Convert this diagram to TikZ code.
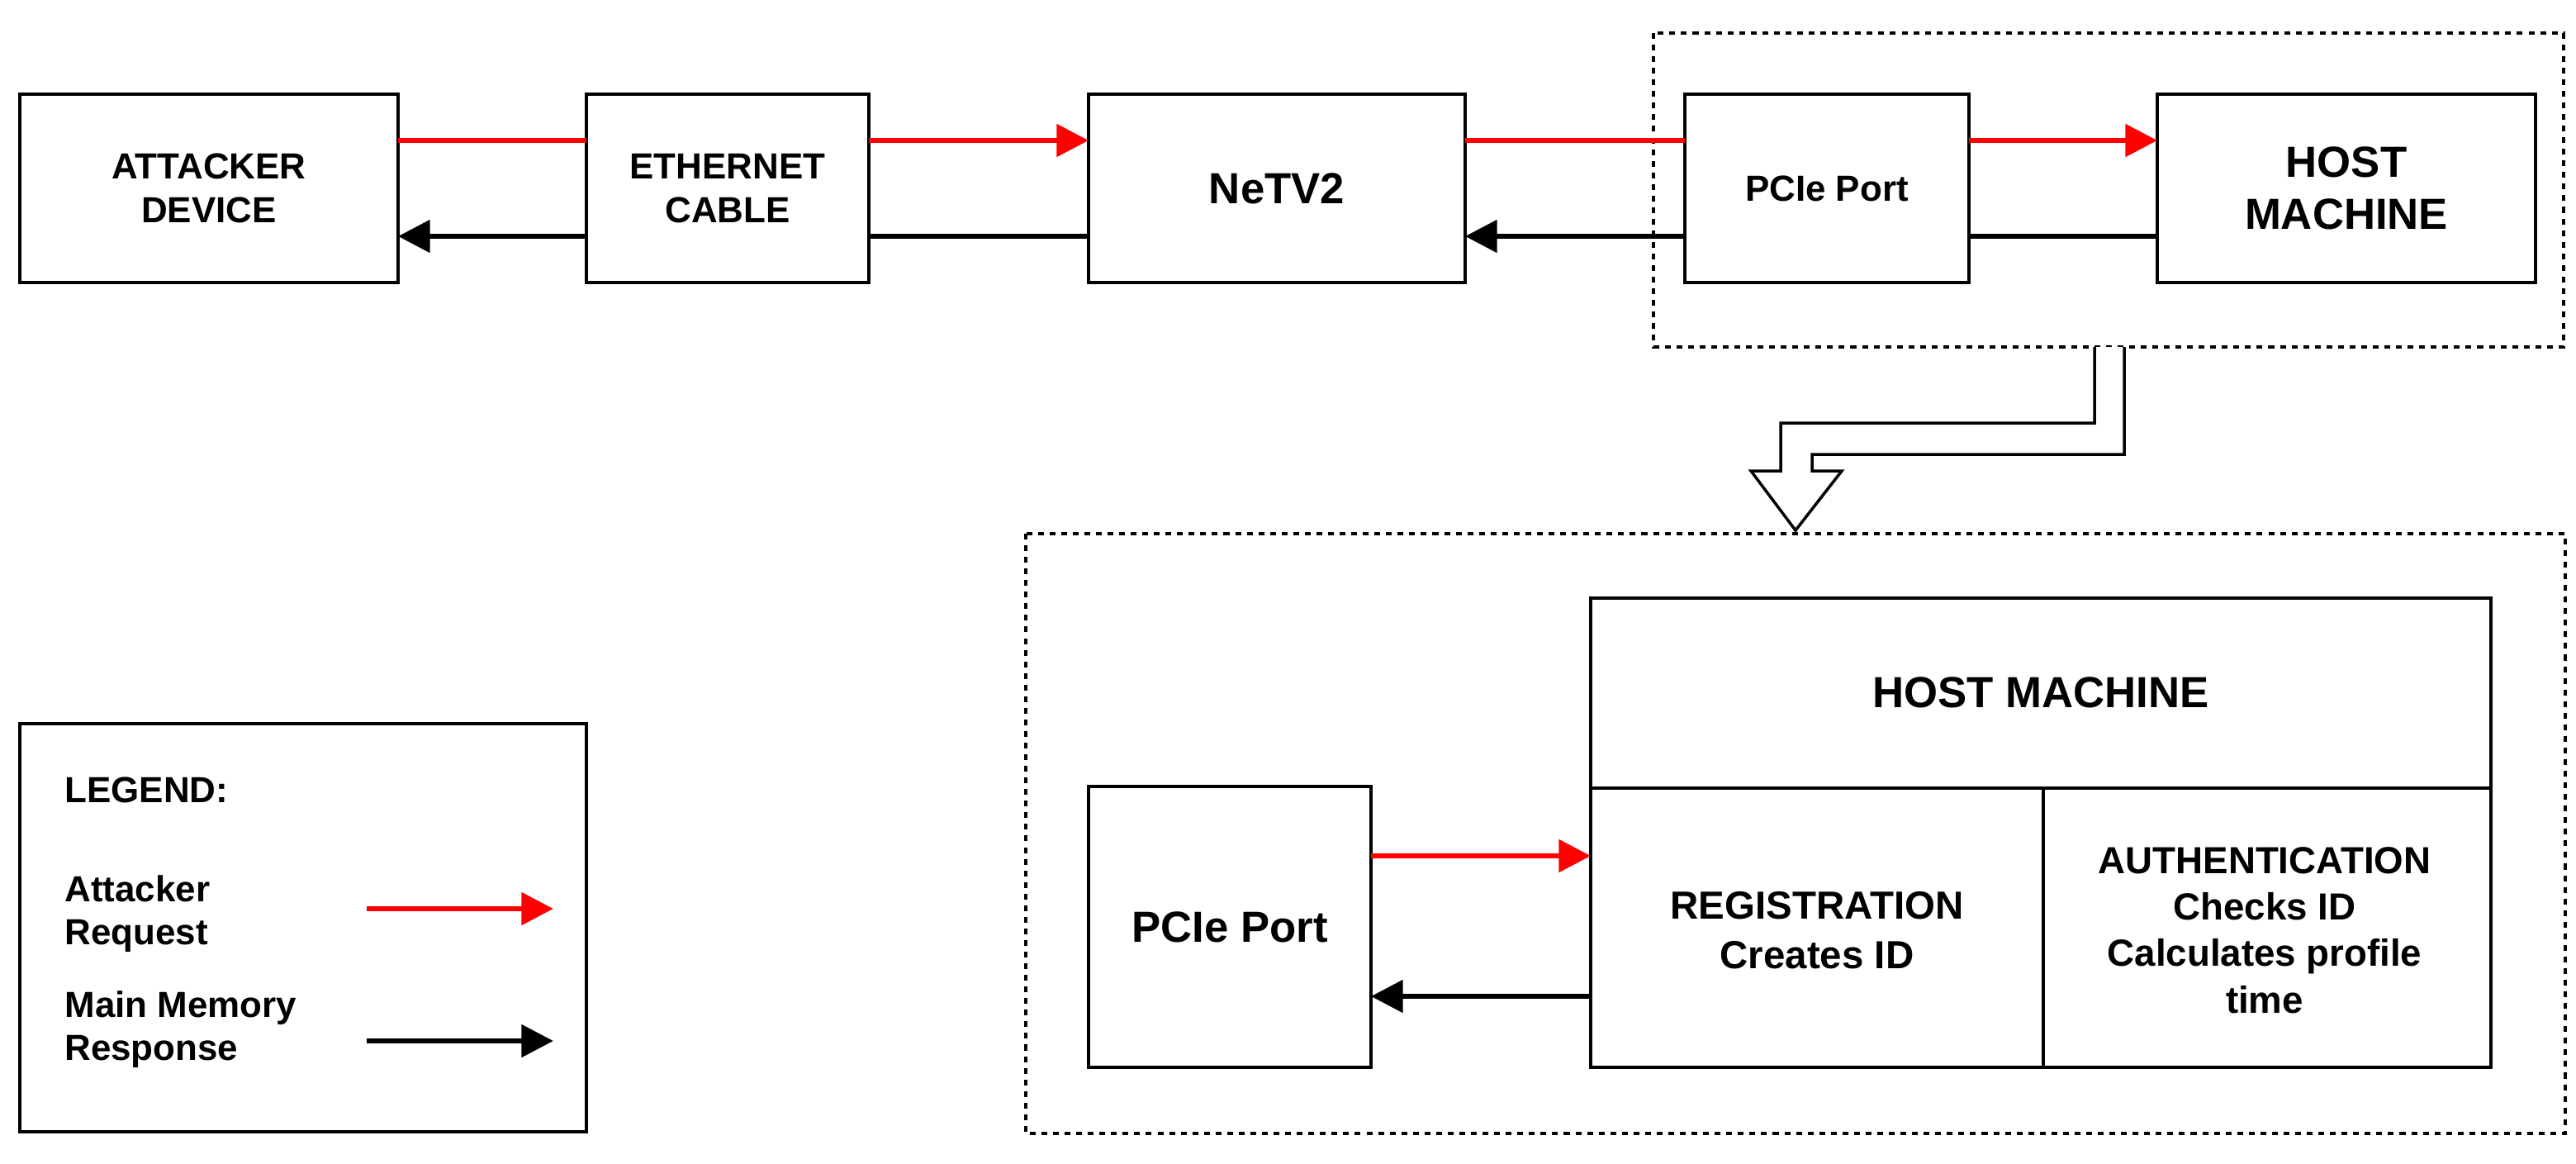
\documentclass[tikz,border=0pt]{standalone}
\usepackage{fontspec}
\setmainfont{Liberation Sans}
\usetikzlibrary{arrows.meta}
\begin{document}
\begin{tikzpicture}[x=0.02cm,y=-0.02cm,
 box/.style={draw,line width=1.2pt,minimum width=0,inner sep=0},
 lbl/.style={font=\fontsize{12.5}{15}\selectfont\bfseries,align=center},
 big/.style={font=\fontsize{15}{18}\selectfont\bfseries,align=center},
 redar/.style={draw=red,line width=1.8pt,-{Triangle[length=11pt,width=11pt]}},
 blkar/.style={draw=black,line width=1.8pt,-{Triangle[length=11pt,width=11pt]}},
 dashbox/.style={draw,dash pattern=on 2pt off 2pt,line width=0.9pt}]
\useasboundingbox (0,0) rectangle (1559.5,704);
% top dashed
\draw[dashbox] (1001,20) rectangle (1552,210);
% top boxes
\draw[box] (12,57) rectangle (241,171); \node[lbl] (att) at (126.5,114) {ATTACKER\\DEVICE};
\draw[box] (355,57) rectangle (526,171); \node[lbl] (eth) at (440.5,114) {ETHERNET\\CABLE};
\draw[box] (659,57) rectangle (887,171); \node[big] (netv) at (773,114) {NeTV2};
\draw[box] (1020,57) rectangle (1192,171); \node[lbl] (pcie) at (1106,114) {PCIe Port};
\draw[box] (1306,57) rectangle (1535,171); \node[big] (host) at (1420.5,114) {HOST\\MACHINE};
\coordinate (a1) at (241,85); \coordinate (e1) at (355,85); \coordinate (e2) at (526,85);
\coordinate (n1) at (659,85); \coordinate (n2) at (887,85); \coordinate (p1) at (1020,85);
\coordinate (p2) at (1192,85); \coordinate (h1) at (1306,85);
\draw[draw=red,line width=1.8pt] (a1) -- (e1);
\draw[redar] (e2) -- (n1);
\draw[draw=red,line width=1.8pt] (n2) -- (p1);
\draw[redar] (p2) -- (h1);
\coordinate (a3) at (241,143); \coordinate (e3) at (355,143); \coordinate (e4) at (526,143);
\coordinate (n3) at (659,143); \coordinate (n4) at (887,143); \coordinate (p3) at (1020,143);
\coordinate (p4) at (1192,143); \coordinate (h3) at (1306,143);
\draw[blkar] (e3) -- (a3);
\draw[draw=black,line width=1.8pt] (n3) -- (e4);
\draw[blkar] (p3) -- (n4);
\draw[draw=black,line width=1.8pt] (h3) -- (p4);
% hollow arrow
\draw[line width=1pt,fill=white] (1268,210) -- (1268,256) -- (1078,256) -- (1078,285) -- (1060,285) -- (1087,321) -- (1115,285) -- (1097,285) -- (1097,275) -- (1286,275) -- (1286,210);
% lower dashed
\draw[dashbox] (621,323) rectangle (1553,686);
\draw[box] (963,362) rectangle (1508,646);
\draw[line width=1.2pt] (963,477) -- (1508,477) (1237,477) -- (1237,646);
\node[big] (hm) at (1235.5,419) {HOST MACHINE};
\node[lbl,font=\fontsize{13.5}{17}\selectfont\bfseries] (reg) at (1100,563) {REGISTRATION\\Creates ID};
\node[lbl,font=\fontsize{13}{16}\selectfont\bfseries] (auth) at (1371,563) {AUTHENTICATION\\Checks ID\\Calculates profile\\time};
\draw[box] (659,476) rectangle (830,646); \node[big] (pc2) at (744.5,561) {PCIe Port};
\coordinate (q1) at (830,518); \coordinate (r1) at (963,518);
\coordinate (q2) at (830,603); \coordinate (r2) at (963,603);
\draw[redar] (q1) -- (r1);
\draw[blkar] (r2) -- (q2);
% legend
\draw[box] (12,438) rectangle (355,685);
\node[lbl,anchor=west] (lg) at (33,478) {LEGEND:};
\node[lbl,anchor=west,align=left] (lr) at (33,553) {Attacker\\Request};
\node[lbl,anchor=west,align=left] (lm) at (33,623) {Main Memory\\Response};
\coordinate (l1) at (222,550); \coordinate (l2) at (335,550);
\coordinate (l3) at (222,630); \coordinate (l4) at (335,630);
\draw[redar] (l1) -- (l2);
\draw[blkar] (l3) -- (l4);
\end{tikzpicture}
\end{document}
